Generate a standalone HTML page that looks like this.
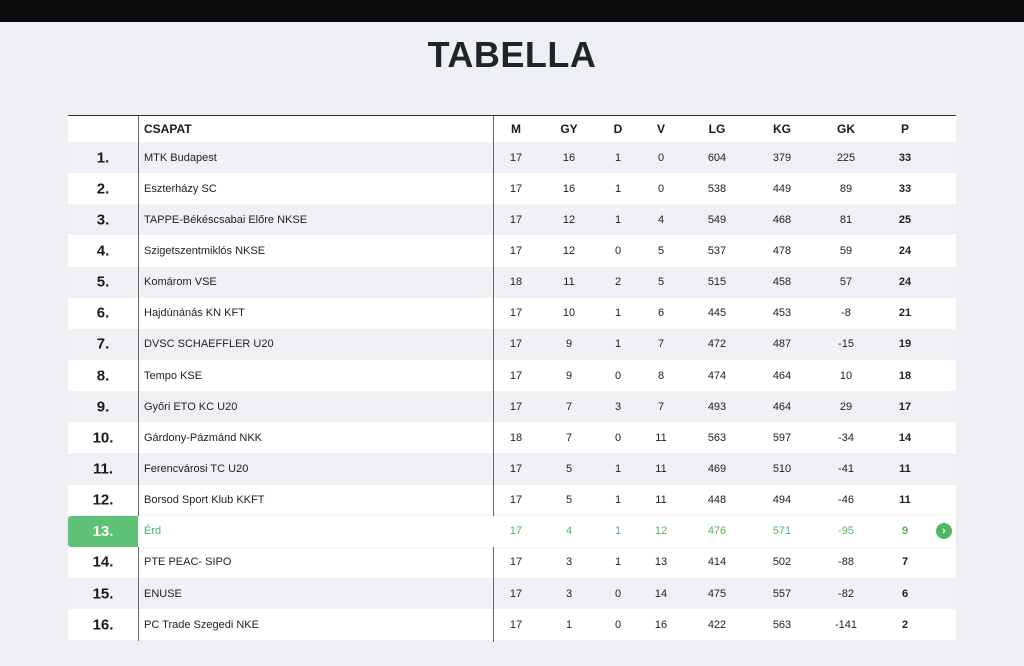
<!DOCTYPE html>
<html><head><meta charset="utf-8"><style>
*{margin:0;padding:0;box-sizing:border-box}
body{width:1024px;height:666px;background:#eff0f4;font-family:"Liberation Sans",sans-serif;position:relative;overflow:hidden}
.top{position:absolute;left:0;top:0;width:1024px;height:22px;background:#0c0c0c}
h1{position:absolute;left:0;top:34px;width:1024px;text-align:center;font-size:36px;font-weight:bold;color:#1f242b;letter-spacing:0.5px}
.tbl{position:absolute;left:68px;top:115px;width:888px}
.r{position:relative;height:31.15px;background:#fff;font-size:11px;color:#222}
.r.g{background:#f0f1f5}
.hd{height:27px;border-top:1.5px solid #333;font-weight:bold;font-size:12px;color:#1a1a1a}
.r span{position:absolute;top:50%;transform:translateY(-50%);}
.rk{left:0;width:70px;text-align:center;font-weight:bold;font-size:15px;color:#1a1a1a}
.tm{left:76px}
.n{width:50px;margin-left:-25px;text-align:center}
.c1{left:448px}.c2{left:501px}.c3{left:550px}.c4{left:593px}.c5{left:649px}.c6{left:714px}.c7{left:778px}.c8{left:837px;font-weight:bold}
.vl{position:absolute;top:1px;width:1px;height:525px;background:#666;z-index:1}
.hl{color:#4cb862;z-index:2;box-shadow:0 0 4px rgba(0,0,0,0.08)}
.hl .rk{background:#5dc176;color:#fff;height:31px;top:0;transform:none;line-height:31px;border-radius:3px 0 0 3px}
.hl .c8{font-weight:bold}
.ic{left:868px;width:16px;height:16px;border-radius:50%;background:#4cb862;color:#fff;font-size:11px;line-height:16px;text-align:center;font-weight:bold}
</style></head><body>
<div class="top"></div>
<h1>TABELLA</h1>
<div class="tbl">
<div class="vl" style="left:70px"></div>
<div class="vl" style="left:425px;height:526px"></div>
<div class="r hd"><span class="tm">CSAPAT</span><span class="n c1">M</span><span class="n c2">GY</span><span class="n c3">D</span><span class="n c4">V</span><span class="n c5">LG</span><span class="n c6">KG</span><span class="n c7">GK</span><span class="n c8">P</span></div>
<div class="r g"><span class="rk">1.</span><span class="tm">MTK Budapest</span><span class="n c1">17</span><span class="n c2">16</span><span class="n c3">1</span><span class="n c4">0</span><span class="n c5">604</span><span class="n c6">379</span><span class="n c7">225</span><span class="n c8">33</span></div>
<div class="r"><span class="rk">2.</span><span class="tm">Eszterházy SC</span><span class="n c1">17</span><span class="n c2">16</span><span class="n c3">1</span><span class="n c4">0</span><span class="n c5">538</span><span class="n c6">449</span><span class="n c7">89</span><span class="n c8">33</span></div>
<div class="r g"><span class="rk">3.</span><span class="tm">TAPPE-Békéscsabai Előre NKSE</span><span class="n c1">17</span><span class="n c2">12</span><span class="n c3">1</span><span class="n c4">4</span><span class="n c5">549</span><span class="n c6">468</span><span class="n c7">81</span><span class="n c8">25</span></div>
<div class="r"><span class="rk">4.</span><span class="tm">Szigetszentmiklós NKSE</span><span class="n c1">17</span><span class="n c2">12</span><span class="n c3">0</span><span class="n c4">5</span><span class="n c5">537</span><span class="n c6">478</span><span class="n c7">59</span><span class="n c8">24</span></div>
<div class="r g"><span class="rk">5.</span><span class="tm">Komárom VSE</span><span class="n c1">18</span><span class="n c2">11</span><span class="n c3">2</span><span class="n c4">5</span><span class="n c5">515</span><span class="n c6">458</span><span class="n c7">57</span><span class="n c8">24</span></div>
<div class="r"><span class="rk">6.</span><span class="tm">Hajdúnánás KN KFT</span><span class="n c1">17</span><span class="n c2">10</span><span class="n c3">1</span><span class="n c4">6</span><span class="n c5">445</span><span class="n c6">453</span><span class="n c7">-8</span><span class="n c8">21</span></div>
<div class="r g"><span class="rk">7.</span><span class="tm">DVSC SCHAEFFLER U20</span><span class="n c1">17</span><span class="n c2">9</span><span class="n c3">1</span><span class="n c4">7</span><span class="n c5">472</span><span class="n c6">487</span><span class="n c7">-15</span><span class="n c8">19</span></div>
<div class="r"><span class="rk">8.</span><span class="tm">Tempo KSE</span><span class="n c1">17</span><span class="n c2">9</span><span class="n c3">0</span><span class="n c4">8</span><span class="n c5">474</span><span class="n c6">464</span><span class="n c7">10</span><span class="n c8">18</span></div>
<div class="r g"><span class="rk">9.</span><span class="tm">Győri ETO KC U20</span><span class="n c1">17</span><span class="n c2">7</span><span class="n c3">3</span><span class="n c4">7</span><span class="n c5">493</span><span class="n c6">464</span><span class="n c7">29</span><span class="n c8">17</span></div>
<div class="r"><span class="rk">10.</span><span class="tm">Gárdony-Pázmánd NKK</span><span class="n c1">18</span><span class="n c2">7</span><span class="n c3">0</span><span class="n c4">11</span><span class="n c5">563</span><span class="n c6">597</span><span class="n c7">-34</span><span class="n c8">14</span></div>
<div class="r g"><span class="rk">11.</span><span class="tm">Ferencvárosi TC U20</span><span class="n c1">17</span><span class="n c2">5</span><span class="n c3">1</span><span class="n c4">11</span><span class="n c5">469</span><span class="n c6">510</span><span class="n c7">-41</span><span class="n c8">11</span></div>
<div class="r"><span class="rk">12.</span><span class="tm">Borsod Sport Klub KKFT</span><span class="n c1">17</span><span class="n c2">5</span><span class="n c3">1</span><span class="n c4">11</span><span class="n c5">448</span><span class="n c6">494</span><span class="n c7">-46</span><span class="n c8">11</span></div>
<div class="r hl"><span class="rk">13.</span><span class="tm">Érd</span><span class="n c1">17</span><span class="n c2">4</span><span class="n c3">1</span><span class="n c4">12</span><span class="n c5">476</span><span class="n c6">571</span><span class="n c7">-95</span><span class="n c8">9</span><span class="ic">›</span></div>
<div class="r"><span class="rk">14.</span><span class="tm">PTE PEAC- SIPO</span><span class="n c1">17</span><span class="n c2">3</span><span class="n c3">1</span><span class="n c4">13</span><span class="n c5">414</span><span class="n c6">502</span><span class="n c7">-88</span><span class="n c8">7</span></div>
<div class="r g"><span class="rk">15.</span><span class="tm">ENUSE</span><span class="n c1">17</span><span class="n c2">3</span><span class="n c3">0</span><span class="n c4">14</span><span class="n c5">475</span><span class="n c6">557</span><span class="n c7">-82</span><span class="n c8">6</span></div>
<div class="r"><span class="rk">16.</span><span class="tm">PC Trade Szegedi NKE</span><span class="n c1">17</span><span class="n c2">1</span><span class="n c3">0</span><span class="n c4">16</span><span class="n c5">422</span><span class="n c6">563</span><span class="n c7">-141</span><span class="n c8">2</span></div>
</div>
</body></html>
